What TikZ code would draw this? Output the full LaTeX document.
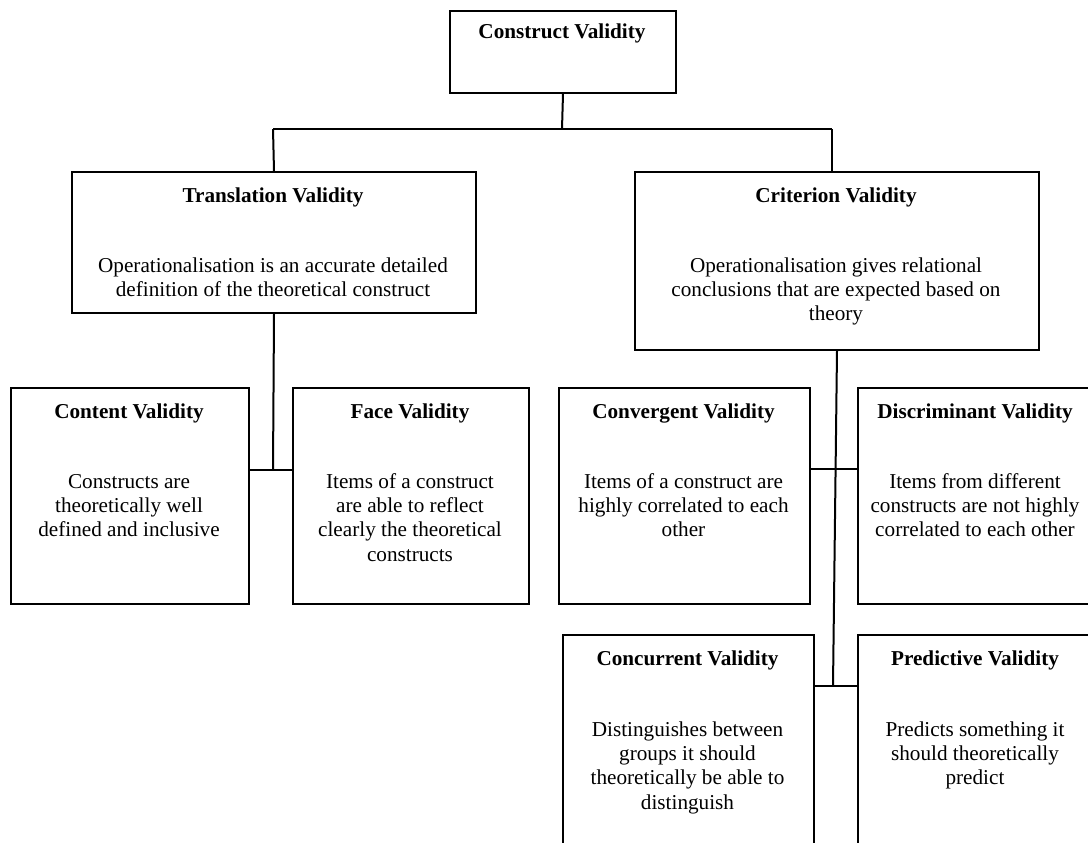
\documentclass[tikz,border=0pt]{standalone}
\usepackage{fontspec}
\setmainfont{Liberation Serif}
\begin{document}
\begin{tikzpicture}[x=1pt,y=-1pt,
  box/.style={draw, line width=2pt, inner sep=0pt, anchor=north west},
  ttl/.style={font=\bfseries\fontsize{21.2}{24.3}\selectfont, anchor=base, inner sep=0pt},
  body/.style={font=\fontsize{21.2}{24.3}\selectfont, align=center, anchor=north, inner sep=0pt},
  conn/.style={line width=2pt}]
\useasboundingbox (0,0) rectangle (1088,843);
\clip (0,0) rectangle (1088,843);
% boxes
\node[box, minimum width=226pt, minimum height=82pt] (cv) at (449,10) {};
\node[box, minimum width=404pt, minimum height=141pt] (tv) at (71,171) {};
\node[box, minimum width=404pt, minimum height=178pt] (crv) at (634,171) {};
\node[box, minimum width=238pt, minimum height=216pt] (content) at (10,387) {};
\node[box, minimum width=236pt, minimum height=216pt] (face) at (292,387) {};
\node[box, minimum width=251pt, minimum height=216pt] (conv) at (558,387) {};
\node[box, minimum width=236pt, minimum height=216pt] (disc) at (857,387) {};
\node[box, minimum width=251pt, minimum height=240pt] (conc) at (562,634) {};
\node[box, minimum width=236pt, minimum height=240pt] (pred) at (857,634) {};
% texts
\node[ttl] (cvt) at (562,39) {Construct Validity};
\node[ttl] (tvt) at (273,202) {Translation Validity};
\node[body] (tvb) at (273,255) {\strut Operationalisation is an accurate detailed\\definition of the theoretical construct};
\node[ttl] (crvt) at (836,202) {Criterion Validity};
\node[body] (crvb) at (836,255) {\strut Operationalisation gives relational\\conclusions that are expected based on\\theory};
\node[ttl] (contentt) at (129,418) {Content Validity};
\node[body] (contentb) at (129,471) {\strut Constructs are\\theoretically well\\defined and inclusive};
\node[ttl] (facet) at (410,418) {Face Validity};
\node[body] (faceb) at (410,471) {\strut Items of a construct\\are able to reflect\\clearly the theoretical\\constructs};
\node[ttl] (convt) at (683.5,418) {Convergent Validity};
\node[body] (convb) at (683.5,471) {\strut Items of a construct are\\highly correlated to each\\other};
\node[ttl] (disct) at (975,418) {Discriminant Validity};
\node[body] (discb) at (975,471) {\strut Items from different\\constructs are not highly\\correlated to each other};
\node[ttl] (conct) at (687.5,665) {Concurrent Validity};
\node[body] (concb) at (687.5,719) {\strut Distinguishes between\\groups it should\\theoretically be able to\\distinguish};
\node[ttl] (predt) at (975,665) {Predictive Validity};
\node[body] (predb) at (975,719) {\strut Predicts something it\\should theoretically\\predict};
% connectors
\coordinate (jtop) at (562,129);
\coordinate (jl) at (273,129);
\coordinate (jr) at (832,129);
\coordinate (tj) at (273,470);
\coordinate (cj1) at (835,469);
\coordinate (cj2) at (833,686);
\draw[conn] (cv.south) -- (jtop);
\draw[conn] (jl) -- (jr);
\draw[conn] (jl) -- (tv.north);
\draw[conn] (jr) -- (jr |- crv.north);
\draw[conn] (tv.south) -- (tj);
\draw[conn] (content.east |- tj) -- (face.west |- tj);
\draw[conn] (crv.south) -- (cj2);
\draw[conn] (conv.east |- cj1) -- (disc.west |- cj1);
\draw[conn] (conc.east |- cj2) -- (pred.west |- cj2);
\end{tikzpicture}
\end{document}
